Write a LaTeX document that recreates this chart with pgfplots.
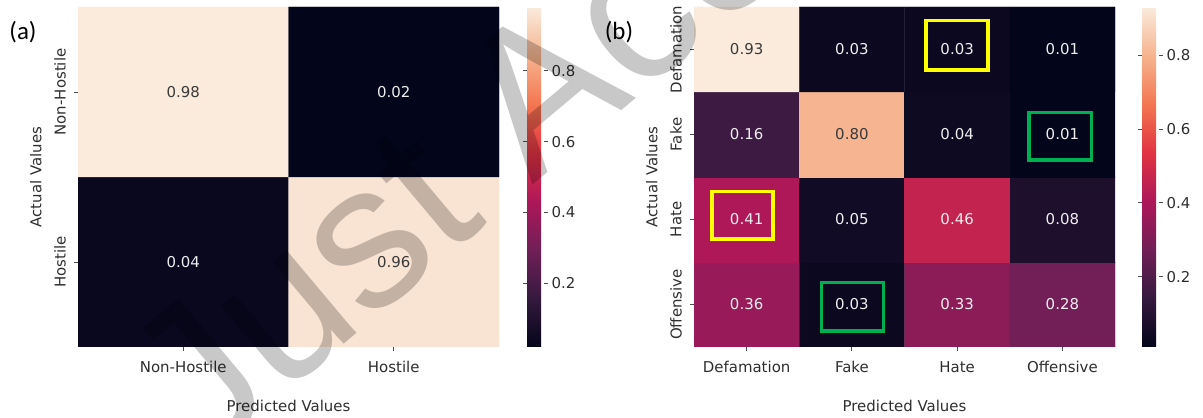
\documentclass[border=0pt]{standalone}
\usepackage{pgfplots}
\pgfplotsset{compat=1.18}
\usepackage{pgfplotstable}
\usepackage{fontspec}
\setmainfont{DejaVu Sans}
\newfontfamily\labfont{Carlito}
\newfontfamily\wmfont{Liberation Sans}
\definecolor{txtdark}{HTML}{3A3A3A}
\definecolor{txtlight}{HTML}{EEEEEE}
\definecolor{lblgray}{HTML}{2E2E2E}
\definecolor{boxyellow}{HTML}{FFFF00}
\definecolor{boxgreen}{HTML}{00B050}
\definecolor{wmgray}{HTML}{C8C8C8}
\newcommand{\tf}{\fontsize{15}{18}\selectfont}

% y = row counted from the bottom (top row has the largest y)
\pgfplotstableread{
x y v
0 0 0.04
1 0 0.96
0 1 0.98
1 1 0.02
}\cmA

\pgfplotstableread{
x y v
0 0 0.36
1 0 0.03
2 0 0.33
3 0 0.28
0 1 0.41
1 1 0.05
2 1 0.46
3 1 0.08
0 2 0.16
1 2 0.80
2 2 0.04
3 2 0.01
0 3 0.93
1 3 0.03
2 3 0.03
3 3 0.01
}\cmB

\pgfplotsset{
  colormap={rocket}{rgb255=(3,5,26) rgb255=(53,25,62) rgb255=(112,31,87) rgb255=(173,23,89) rgb255=(225,51,66) rgb255=(243,118,81) rgb255=(246,180,143) rgb255=(250,235,221)},
  hm/.style={
    scale only axis, width=421bp, height=340bp,
    axis line style={draw=none},
    tick align=outside, xtick pos=bottom, ytick pos=left,
    major tick length=4bp,
    tick style={black!70, line width=0.8bp},
    every tick label/.append style={font=\tf, text=lblgray},
    xticklabel style={anchor=center, yshift=-16bp},
    yticklabel style={xshift=-14bp, rotate=90, anchor=center},
    xlabel={Predicted Values}, ylabel={Actual Values},
    label style={font=\tf, text=lblgray},
    xlabel style={at={(axis description cs:0.5,-0.1735)}, anchor=center},
    ylabel style={at={(axis description cs:-0.1,0.5)}, anchor=center},
    colorbar,
    colorbar style={
      at={(parent axis.north east)}, anchor=north west,
      scale only axis, width=17bp, height=340bp,
      axis line style={draw=none},
      ytick={0.2,0.4,0.6,0.8},
      tick align=outside, major tick length=4bp,
      tick style={black!70, line width=0.8bp},
      yticklabel style={font=\tf, text=lblgray,
        /pgf/number format/.cd, fixed, fixed zerofill, precision=1, assume math mode=true},
    },
  },
  cell/.style={draw=none, mark=none, nodes near coords, point meta=explicit symbolic,
    nodes near coords align=center,
    every node near coord/.append style={font=\tf, text=#1}},
}

\begin{document}
\begin{tikzpicture}
\useasboundingbox (0bp,0bp) rectangle (1203bp,418bp);

\begin{axis}[hm, at={(78bp,71bp)}, anchor=south west,
  xmin=-0.5, xmax=1.5, ymin=-0.5, ymax=1.5,
  xtick={0,1}, ytick={0,1},
  xticklabels={Non-Hostile,Hostile}, yticklabels={Hostile,Non-Hostile},
  colorbar style={xshift=19.5bp},
  point meta min=0.02, point meta max=0.98]
  \addplot[matrix plot*, mesh/cols=2, point meta=explicit] table[x=x, y=y, meta=v] {\cmA};
  \addplot[cell=txtdark] coordinates {(0,1)[0.98] (1,0)[0.96]};
  \addplot[cell=txtlight] coordinates {(1,1)[0.02] (0,0)[0.04]};
\end{axis}

\begin{axis}[hm, at={(694bp,71bp)}, anchor=south west,
  xmin=-0.5, xmax=3.5, ymin=-0.5, ymax=3.5,
  xtick={0,1,2,3}, ytick={0,1,2,3},
  xticklabels={Defamation,Fake,Hate,Offensive}, yticklabels={Offensive,Hate,Fake,Defamation},
  colorbar style={xshift=18.5bp},
  point meta min=0.01, point meta max=0.93]
  \addplot[matrix plot*, mesh/cols=4, point meta=explicit] table[x=x, y=y, meta=v] {\cmB};
  \addplot[cell=txtdark] coordinates {(0,3)[0.93] (1,2)[0.80]};
  \addplot[cell=txtlight] coordinates {(1,3)[0.03] (2,3)[0.03] (3,3)[0.01]
    (0,2)[0.16] (2,2)[0.04] (3,2)[0.01]
    (0,1)[0.41] (1,1)[0.05] (2,1)[0.46] (3,1)[0.08]
    (0,0)[0.36] (1,0)[0.03] (2,0)[0.33] (3,0)[0.28]};
  \draw[boxyellow, line width=3.5bp] (axis cs:1.705,2.76) rectangle (axis cs:2.295,3.34);
  \draw[boxgreen, line width=3.5bp] (axis cs:2.685,1.70) rectangle (axis cs:3.275,2.26);
  \draw[boxyellow, line width=3.5bp] (axis cs:-0.33,0.77) rectangle (axis cs:0.25,1.33);
  \draw[boxgreen, line width=3.5bp] (axis cs:0.71,-0.31) rectangle (axis cs:1.30,0.26);
\end{axis}

\node[font=\labfont\fontsize{25}{28}\selectfont, text=black] at (23bp,386bp) {(a)};
\node[font=\labfont\fontsize{25}{28}\selectfont, text=black] at (619bp,386bp) {(b)};

% journal watermark
\begin{scope}[blend mode=multiply]
\node[font=\wmfont\fontsize{205}{205}\selectfont, text=wmgray, rotate=40,
  anchor=base west, inner sep=0pt] at (202bp,-45bp) {Just Accepted};
\end{scope}
\end{tikzpicture}
\end{document}
